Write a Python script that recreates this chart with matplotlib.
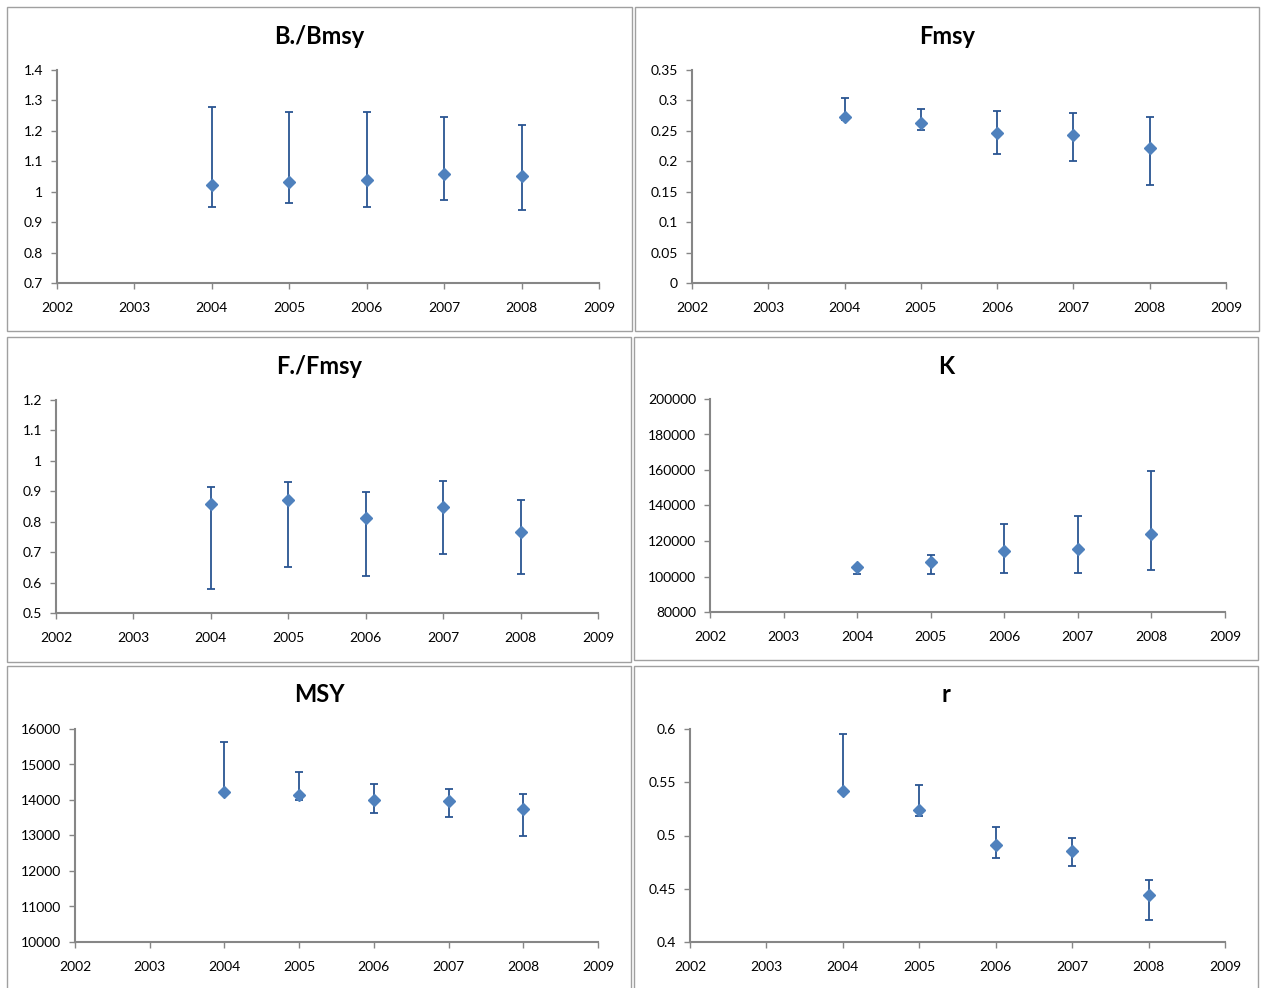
import matplotlib.pyplot as plt
from matplotlib.patches import Rectangle
import numpy as np

plt.rcParams['font.family'] = ['Lato', 'DejaVu Sans']

years = [2004, 2005, 2006, 2007, 2008]

# B./Bmsy
bb_mid = [1.022, 1.033, 1.039, 1.058, 1.051]
bb_lo = [0.950, 0.964, 0.950, 0.972, 0.939]
bb_hi = [1.279, 1.261, 1.261, 1.246, 1.220]

# Fmsy
fmsy_mid = [0.272, 0.263, 0.2465, 0.2428, 0.2223]
fmsy_lo = [0.268, 0.251, 0.2113, 0.2005, 0.1615]
fmsy_hi = [0.3045, 0.286, 0.282, 0.280, 0.2727]

# F./Fmsy
ff_mid = [0.857, 0.870, 0.811, 0.849, 0.767]
ff_lo = [0.578, 0.652, 0.622, 0.693, 0.627]
ff_hi = [0.915, 0.931, 0.898, 0.935, 0.871]

# K
k_mid = [105350, 108340, 114360, 115490, 124110]
k_lo = [101240, 101240, 101800, 101800, 103680]
k_hi = [106000, 111940, 129770, 134080, 159600]

# MSY
msy_mid = [14217, 14132, 13990, 13962, 13746]
msy_lo = [14180, 14000, 13634, 13530, 12986]
msy_hi = [15634, 14797, 14459, 14319, 14169]

# r
r_mid = [0.5418, 0.5237, 0.491, 0.4852, 0.4444]
r_lo = [0.540, 0.5186, 0.4786, 0.4714, 0.4204]
r_hi = [0.595, 0.5474, 0.5083, 0.4977, 0.4582]

W, H = 1261, 988
fig = plt.figure(figsize=(W / 100, H / 100), dpi=100)

# (title, mid, lo, hi, ylim, box px, axes px, tick labels)
panels = [
    ('B./Bmsy', bb_mid, bb_lo, bb_hi, (0.7, 1.4), (7, 7, 632, 331), (57, 70, 599, 283),
     ['0.7', '0.8', '0.9', '1', '1.1', '1.2', '1.3', '1.4']),
    ('Fmsy', fmsy_mid, fmsy_lo, fmsy_hi, (0, 0.35), (635, 7, 1259, 331), (692, 70, 1226, 283),
     ['0', '0.05', '0.1', '0.15', '0.2', '0.25', '0.3', '0.35']),
    ('F./Fmsy', ff_mid, ff_lo, ff_hi, (0.5, 1.2), (7, 337, 631, 662), (56, 400, 598, 613),
     ['0.5', '0.6', '0.7', '0.8', '0.9', '1', '1.1', '1.2']),
    ('K', k_mid, k_lo, k_hi, (80000, 200000), (634, 337, 1258, 660), (710, 399, 1225, 612),
     ['80000', '100000', '120000', '140000', '160000', '180000', '200000']),
    ('MSY', msy_mid, msy_lo, msy_hi, (10000, 16000), (7, 666, 631, 990), (75, 729, 598, 942),
     ['10000', '11000', '12000', '13000', '14000', '15000', '16000']),
    ('r', r_mid, r_lo, r_hi, (0.4, 0.6), (634, 666, 1258, 990), (690, 729, 1225, 942),
     ['0.4', '0.45', '0.5', '0.55', '0.6']),
]

grey = '#868686'
for title, mid, lo, hi, ylim, box, ax_px, ylabels in panels:
    bx0, by0, bx1, by1 = box
    fig.patches.append(Rectangle((bx0 / W, 1 - by1 / H), (bx1 - bx0) / W, (by1 - by0) / H,
                                 transform=fig.transFigure, fill=False,
                                 edgecolor='#a0a0a0', linewidth=1.0))
    fig.text((bx0 + bx1) / 2 / W, 1 - (by0 + 29) / H, title,
             ha='center', va='center', fontsize=17, fontweight='bold')

    x0, y0, x1, y1 = ax_px
    ax = fig.add_axes([x0 / W, 1 - y1 / H, (x1 - x0) / W, (y1 - y0) / H])
    mid = np.array(mid)
    yerr = [mid - np.array(lo), np.array(hi) - mid]
    ax.errorbar(years, mid, yerr=yerr, fmt='none', ecolor='#2a5592', elinewidth=1.3,
                capsize=2.6, capthick=1.3, zorder=2)
    ax.plot(years, mid, 'D', color='#4f81bd', markersize=6.5, zorder=3)

    ax.set_xlim(2002, 2009)
    ax.set_xticks(range(2002, 2010))
    ax.set_ylim(*ylim)
    ax.set_yticks(np.linspace(ylim[0], ylim[1], len(ylabels)))
    ax.set_yticklabels(ylabels)
    for s in ['top', 'right']:
        ax.spines[s].set_visible(False)
    for s in ['left', 'bottom']:
        ax.spines[s].set_color(grey)
        ax.spines[s].set_linewidth(1.5)
    ax.tick_params(axis='both', colors=grey, labelcolor='black', labelsize=10,
                   length=4, width=1, direction='out')
    ax.tick_params(axis='x', pad=9.5)
    ax.tick_params(axis='y', pad=6)

fig.savefig('out.png', dpi=100)
